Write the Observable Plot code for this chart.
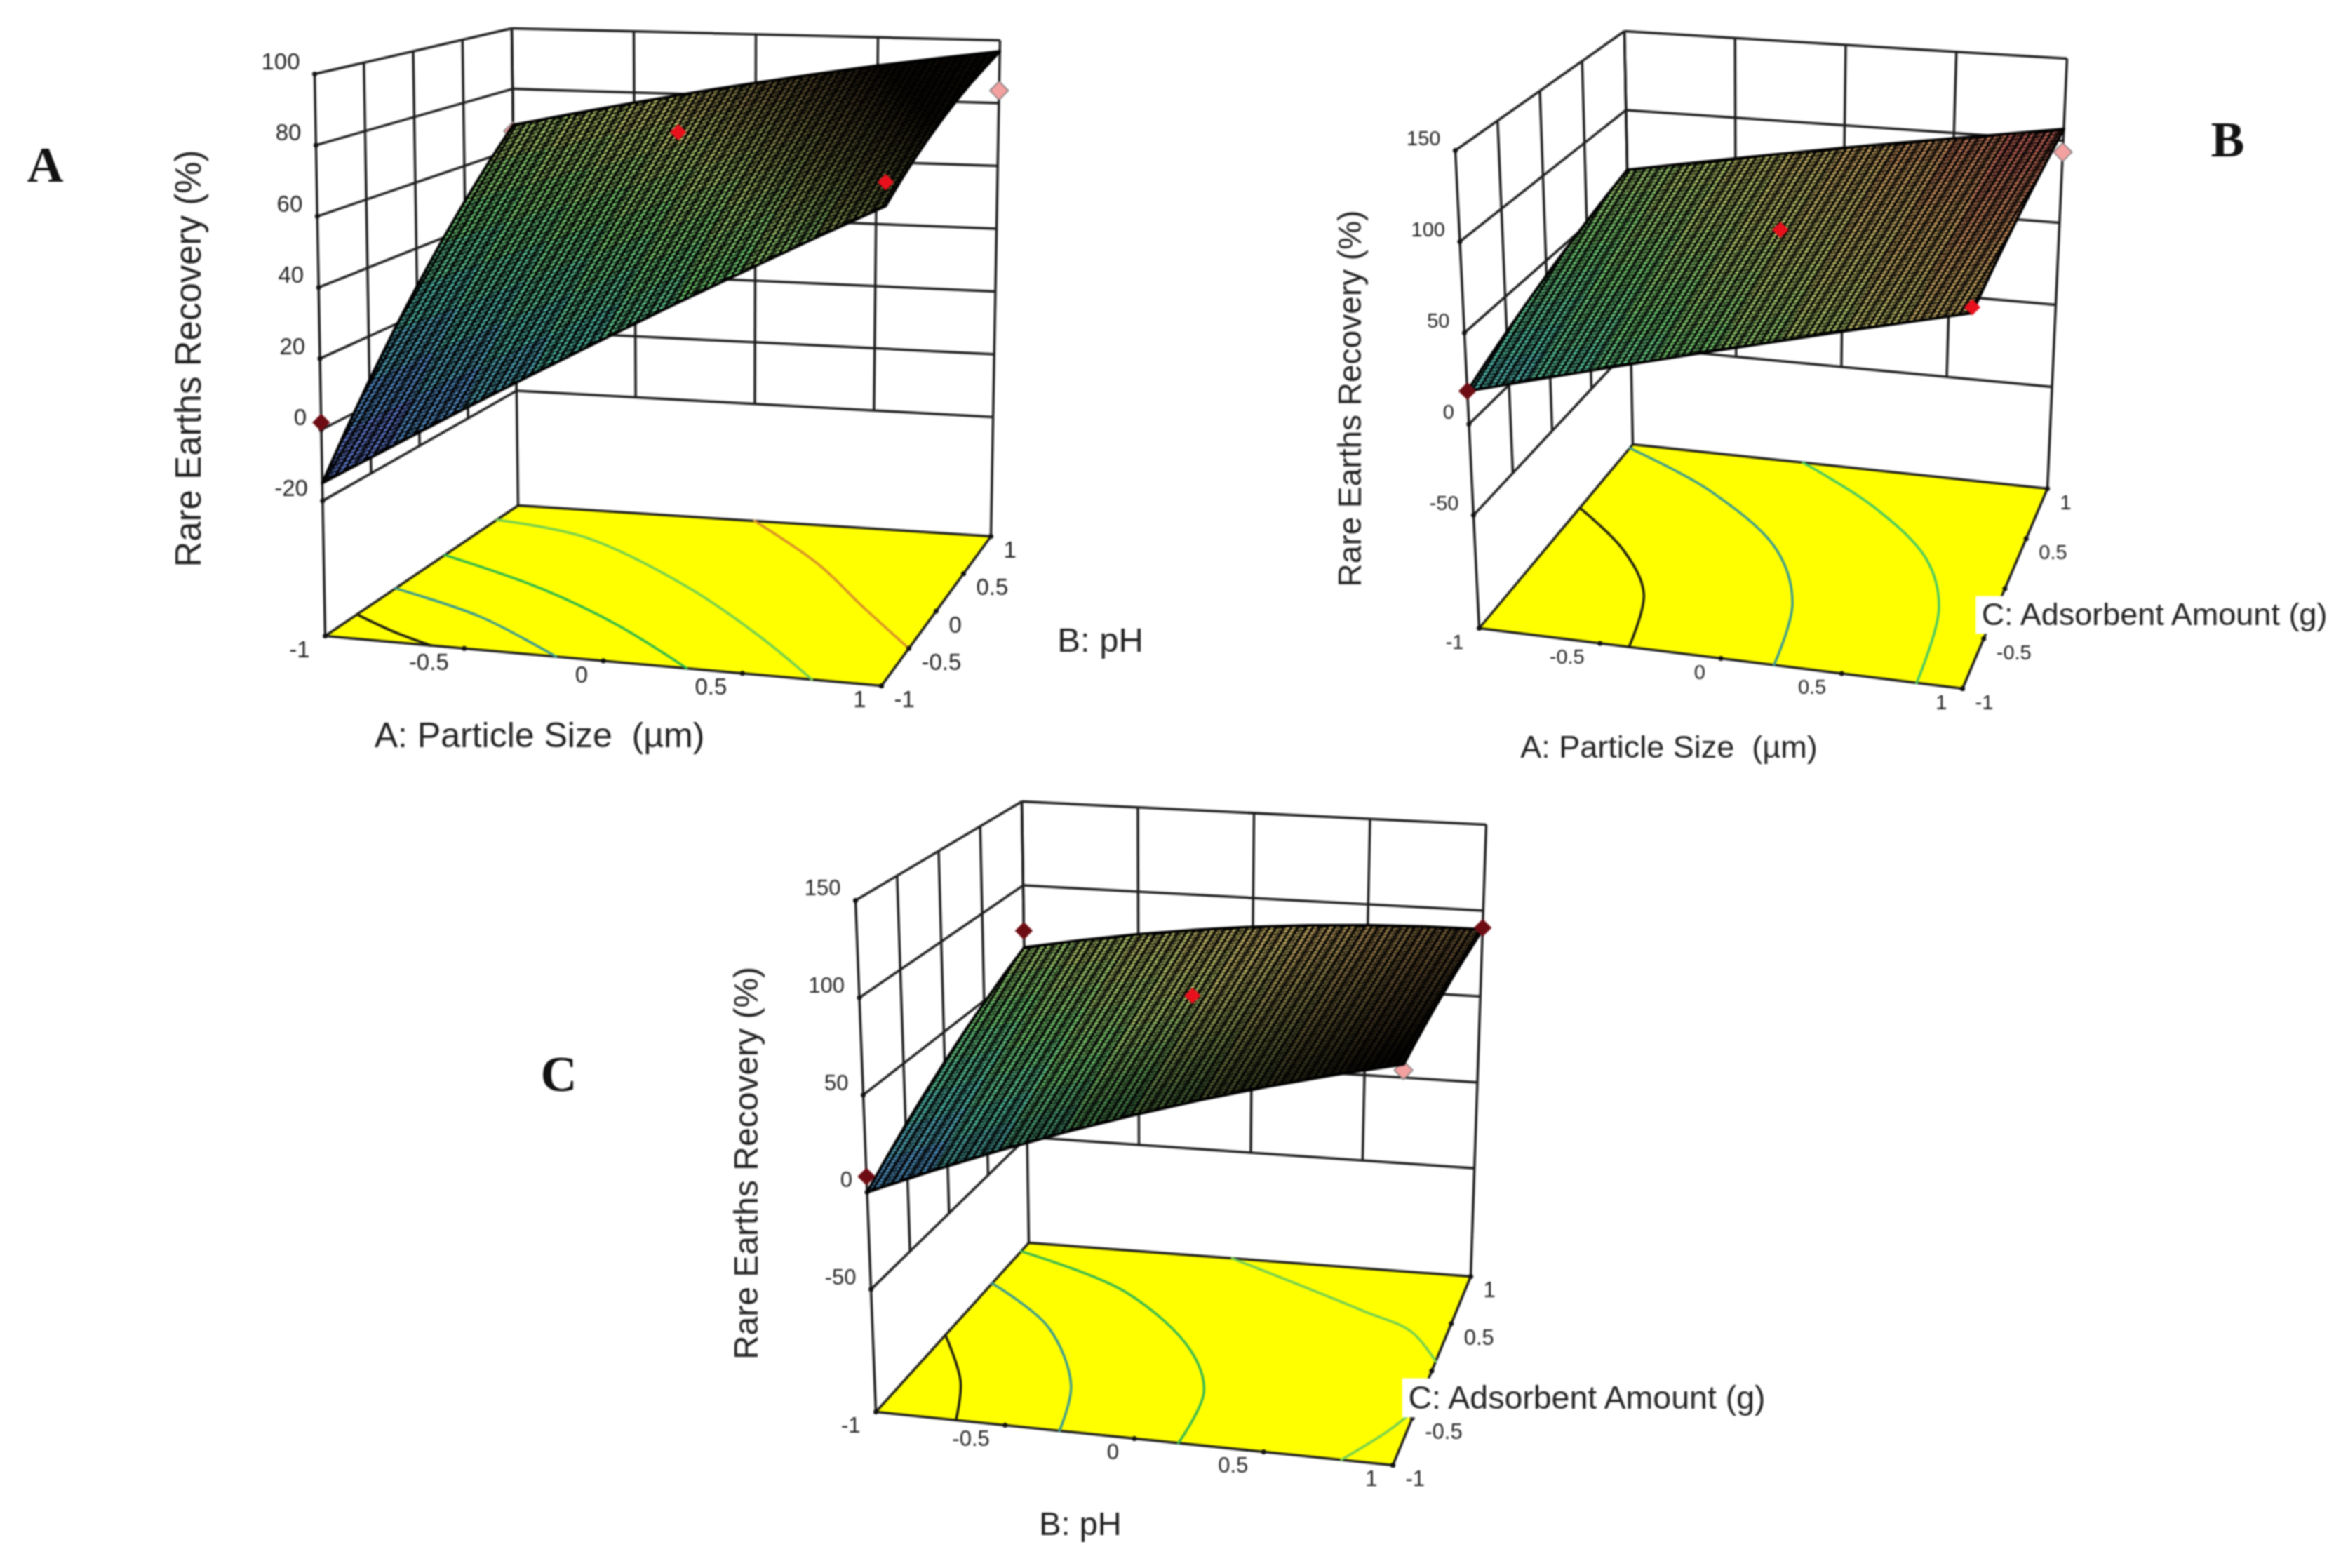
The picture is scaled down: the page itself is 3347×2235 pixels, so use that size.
<!DOCTYPE html>
<html><head><meta charset="utf-8">
<style>html,body{margin:0;padding:0;background:#fff}</style>
<script src="https://cdn.jsdelivr.net/npm/d3@7"></script>
<script src="https://cdn.jsdelivr.net/npm/@observablehq/plot@0.6"></script>
</head><body>
<script>
// ---- values ----
const axisKnots = [-1,-.75,-.5,-.25,0,.25,.5,.75,1];
const sideTicks = [-1,-.5,0,.5,1];
const zTicksA = [-20,0,20,40,60,80,100];
const zTicksBC = [-50,0,50,100,150];

// response heights: rows run along the second factor (-1 to 1), columns along the first
const surfaceA = [
[-15,-3.2,8.4,19.7,30.75,41.6,52.1,62.5,72.5],
[-3.8,7.2,17.8,28.2,38.3,48.2,57.8,67.2,76.4],
[7.2,17.2,26.9,36.4,45.6,54.6,63.3,71.8,80],
[18,27.1,35.8,44.4,52.7,60.8,68.6,76.1,83.4],
[28.5,36.6,44.5,52.1,59.5,66.6,73.5,80.1,86.5],
[38.8,46,53,59.7,66.1,72.3,78.3,84,89.4],
[48.8,55.1,61.1,66.9,72.4,77.7,82.7,87.5,92],
[58.5,63.9,68.9,73.8,78.4,82.8,86.9,90.7,94.3],
[68,72.4,76.6,80.6,84.25,87.7,90.9,93.8,96.5]];
const surfaceB = [
[18,27.3,36.4,45.3,54,62.5,70.9,79,87],
[24.2,33.1,41.8,50.3,58.7,66.9,74.8,82.6,90.2],
[30.1,38.7,46.9,55.1,63.1,70.9,78.4,85.9,93.1],
[35.9,44.1,52,59.8,67.4,74.8,82,89.1,95.9],
[41.5,49.3,56.9,64.3,71.5,78.5,85.4,92.1,98.5],
[46.9,54.4,61.5,68.6,75.4,82.1,88.5,94.8,100.9],
[52.1,59.2,65.9,72.6,79.1,85.4,91.5,97.4,103.1],
[57.2,63.9,70.3,76.6,82.7,88.6,94.3,99.9,105.2],
[62,68.3,74.4,80.3,86,91.5,96.7,101.8,107]];
const surfaceC = [
[0,14.2,27.5,40,51.5,62.2,72,80.9,89],
[8.7,21.9,34.3,45.7,56.3,66.1,74.9,82.8,89.9],
[17.3,29.5,40.8,51.3,60.9,69.6,77.5,84.4,90.5],
[25.5,36.8,47.1,56.6,65.2,72.9,79.8,85.8,90.9],
[33.5,43.7,53.1,61.6,69.25,76,81.9,86.9,91],
[41.3,50.6,59,66.5,73.1,78.9,83.8,87.8,90.9],
[48.8,57,64.4,71,76.7,81.5,85.4,88.4,90.5],
[56,63.3,69.7,75.3,79.9,83.7,86.6,88.6,89.8],
[63,69.3,74.75,79.3,83,85.8,87.75,88.8,89]];

// design points [first factor, second factor, response]
const aboveA = [[0,0,79],[1,-1,79]];
const lowA = [[-1,-1,2]];
const belowA = [[-1,1,66],[1,1,84]];
const aboveB = [[0,0,80],[1,-1,90]];
const lowB = [[-1,-1,18]];
const belowB = [[1,1,93]];
const aboveC = [[0,0,80]];
const lowC = [[-1,-1,8],[-1,1,73],[1,1,90]];
const belowC = [[1,-1,86]];

// contour lines on the floor [first factor, second factor]
const contoursA = [
 {color:"#1a1a10",line:[[-1,-.67],[-.8,-.86],[-.62,-1]]},
 {color:"#3a9a90",line:[[-1,-.27],[-.58,-.56],[-.17,-1]]},
 {color:"#2fb84a",line:[[-1,.24],[-.49,-.12],[-.08,-.52],[.3,-1]]},
 {color:"#74cf50",line:[[-1,.78],[-.57,.62],[.016,.06],[.44,-.5],[.75,-1]]},
 {color:"#d8902a",line:[[0,1],[.42,.48],[.72,-.02],[1,-.5]]}];
const contoursB = [
 {color:"#1a1a10",line:[[-1,.31],[-.68,-.06],[-.47,-.46],[-.38,-1]]},
 {color:"#3a9a90",line:[[-1,.96],[-.5,.62],[-.05,.12],[.15,-.38],[.22,-1]]},
 {color:"#48c860",line:[[-.18,1],[.26,.64],[.61,.19],[.76,-.26],[.81,-1]]}];
const contoursC = [
 {color:"#1a1a10",line:[[-1,-.09],[-.79,-.58],[-.69,-1]]},
 {color:"#3a9a90",line:[[-1,.52],[-.63,.1],[-.37,-.5],[-.29,-1]]},
 {color:"#38b850",line:[[-1,.9],[-.42,.54],[0,-.02],[.15,-.44],[.17,-1]]},
 {color:"#74cf50",line:[[-.08,1],[.6,.56],[.85,.38],[1,.1]]},
 {color:"#74cf50",line:[[.8,-1],[.93,-.65],[1,-.4]]}];

// ---- view set-up of each panel: where the box corners fall, and its labels ----
const panels = [
 {letter:"A",letterAt:[64,235],surface:surfaceA,above:aboveA,low:lowA,below:belowA,contours:contoursA,zTicks:zTicksA,
  zFloor:-58,zTop:100,tick:33,titleSize:50,
  floor:[[463,906],[1256,977],[1412,764],[738,720]],top:[[448,105],[1263,149],[1425,57],[729,40]],
  xTitle:"A: Particle Size  (µm)",yTitle:"B: pH",xOff:[-91,107],yOff:[234,42],zOff:[-186,5],yBox:false,ySize:49,
  shade:{from:[0,0,79],to:[-.94,4.13,79],opacity:.93}},
 {letter:"B",letterAt:[3175,199],surface:surfaceB,above:aboveB,low:lowB,below:belowB,contours:contoursB,zTicks:zTicksBC,
  zFloor:-112,zTop:150,tick:29,titleSize:45,
  floor:[[2108,895],[2797,981],[2918,696],[2327,633]],top:[[2074,214],[2815,276],[2946,83],[2315,44]],
  xTitle:"A: Particle Size  (µm)",yTitle:"C: Adsorbent Amount (g)",xOff:[-74,127],yOff:[213,38],zOff:[-166,13],yBox:true,ySize:45,
  shade:{from:[.2,0,75],to:[1,1,107],opacity:.15}},
 {letter:"C",letterAt:[796,1531],surface:surfaceC,above:aboveC,low:lowC,below:belowC,contours:contoursC,zTicks:zTicksBC,
  zFloor:-113,zTop:150,tick:31,titleSize:47,
  floor:[[1248,2012],[1985,2088],[2096,1819],[1466,1771]],top:[[1219,1283],[2005,1344],[2118,1175],[1456,1142]],
  xTitle:"B: pH",yTitle:"C: Adsorbent Amount (g)",xOff:[-77,122],yOff:[221,39],zOff:[-169,10],yBox:true,ySize:46.5,
  shade:{from:[0,0,80],to:[.638,-1.8,80],opacity:.95}}
];
const meshLayers = [{id:"mesh",count:62,hole:37},{id:"weave",count:85,hole:47}];

// ---- projection of a model point into the chart's x/y scale ----
function project(p,a,b,z){
  const u=(a+1)/2,v=(b+1)/2,w=(z-p.zFloor)/(p.zTop-p.zFloor);
  const bil=q=>[0,1].map(k=>(1-u)*(1-v)*q[0][k]+u*(1-v)*q[1][k]+u*v*q[2][k]+(1-u)*v*q[3][k]);
  const f=bil(p.floor),t=bil(p.top);
  return {x:f[0]+(t[0]-f[0])*w,y:f[1]+(t[1]-f[1])*w};
}
const pt=(p,a,b,z)=>project(p,a,b,z);

// ---- tables built from the arrays ----
const gridRows=[],tickDots=[],cellRows=[],textEnd=[],textStart=[],textMid=[],boxed=[];
const link=(p,a1,b1,z1,a2,b2,z2)=>{const s=pt(p,a1,b1,z1),e=pt(p,a2,b2,z2);gridRows.push({x1:s.x,y1:s.y,x2:e.x,y2:e.y});};
panels.forEach((p,pi)=>{
  const zMin=p.zTicks[0],zMax=p.zTicks[p.zTicks.length-1];
  p.zTicks.forEach(z=>{
    link(p,-1,-1,z,-1,1,z);link(p,-1,1,z,1,1,z);
    const c=pt(p,-1,-1,z);tickDots.push(c);
    textEnd.push({x:c.x-21,y:c.y-17,text:String(z),size:p.tick});
  });
  sideTicks.forEach(t=>{
    link(p,-1,t,zMin,-1,t,zMax);link(p,t,1,zMin,t,1,zMax);
    const e=pt(p,t,-1,p.zFloor),s=pt(p,1,t,p.zFloor);
    tickDots.push(e,s);
    textEnd.push({x:e.x-22,y:e.y+20,text:String(t),size:p.tick});
    // the reference's pasted title box hides the middle tick label of this axis in panels B and C
    if(!(p.yBox&&t===0))textStart.push({x:s.x+18,y:s.y+20,text:String(t),size:p.tick});
  });
  [[-1,-1],[-1,1],[1,1]].forEach(([a,b])=>link(p,a,b,p.zFloor,a,b,zMin));
  p.floorRows=[[-1,-1],[1,-1],[1,1],[-1,1],[-1,-1]].map(([a,b])=>pt(p,a,b,p.zFloor));
  p.contourRows=p.contours.map(c=>({color:c.color,rows:c.line.map(([a,b])=>pt(p,a,b,p.zFloor))}));
  const S=p.surface,n=axisKnots.length-1;
  for(let j=0;j<n;j++)for(let i=0;i<n;i++){
    const value=(S[j][i]+S[j][i+1]+S[j+1][i]+S[j+1][i+1])/4,key=`${pi}-${i}-${j}`;
    [[i,j],[i+1,j],[i+1,j+1],[i,j+1]].forEach(([ii,jj])=>{
      const q=pt(p,axisKnots[ii],axisKnots[jj],S[jj][ii]);
      cellRows.push({...q,key,value});
    });
  }
  const edge=[];
  for(let i=0;i<=n;i++)edge.push([i,0]);
  for(let j=1;j<=n;j++)edge.push([n,j]);
  for(let i=n-1;i>=0;i--)edge.push([i,n]);
  for(let j=n-1;j>=0;j--)edge.push([0,j]);
  p.edgeRows=edge.map(([i,j])=>pt(p,axisKnots[i],axisKnots[j],S[j][i]));
  const toRows=l=>l.map(([a,b,z])=>pt(p,a,b,z));
  p.aboveRows=toRows(p.above);p.lowRows=toRows(p.low);p.belowRows=toRows(p.below);
  const xm=pt(p,0,-1,p.zFloor),ym=pt(p,1,0,p.zFloor),
        zm={x:(p.floor[0][0]+p.top[0][0])/2,y:(p.floor[0][1]+p.top[0][1])/2};
  textMid.push({x:xm.x+p.xOff[0],y:xm.y+p.xOff[1],text:p.xTitle,size:p.titleSize,rotate:0});
  textMid.push({x:zm.x+p.zOff[0],y:zm.y+p.zOff[1],text:"Rare Earths Recovery (%)",size:p.titleSize+1,rotate:-90});
  (p.yBox?boxed:textMid).push({x:ym.x+p.yOff[0],y:ym.y+p.yOff[1],text:p.yTitle,size:p.ySize,rotate:0});
});

// mesh texture and shading definitions (styling only)
function defsMark(){
  const defs=d3.create("svg:defs");
  panels.forEach((p,i)=>{
    const S=p.surface,n=axisKnots.length-1;
    const c00=pt(p,-1,-1,S[0][0]),c10=pt(p,1,-1,S[0][n]),c01=pt(p,-1,1,S[n][0]),c11=pt(p,1,1,S[n][n]);
    meshLayers.forEach(layer=>{
      const k=layer.count*100*2;
      const ux=((c10.x-c00.x)+(c11.x-c01.x))/k,uy=((c10.y-c00.y)+(c11.y-c01.y))/k,
            vx=((c01.x-c00.x)+(c11.x-c10.x))/k,vy=((c01.y-c00.y)+(c11.y-c10.y))/k;
      const pat=defs.append("pattern").attr("id",layer.id+i).attr("patternUnits","userSpaceOnUse")
        .attr("width",100).attr("height",100)
        .attr("patternTransform",`matrix(${ux},${uy},${vx},${vy},0,0)`);
      const r=layer.hole;
      pat.append("path").attr("fill","#000").attr("fill-rule","evenodd")
        .attr("d",`M0,0H100V100H0Z M${50-r},50a${r},${r} 0 1,0 ${2*r},0a${r},${r} 0 1,0 ${-2*r},0Z`);
    });
    const f=pt(p,...p.shade.from),t=pt(p,...p.shade.to);
    const g=defs.append("linearGradient").attr("id","shade"+i).attr("gradientUnits","userSpaceOnUse")
      .attr("x1",f.x).attr("y1",f.y).attr("x2",t.x).attr("y2",t.y);
    g.append("stop").attr("offset",0).attr("stop-color","#000").attr("stop-opacity",0);
    g.append("stop").attr("offset",1).attr("stop-color","#000").attr("stop-opacity",p.shade.opacity);
  });
  return defs.node();
}

const lineCol="#1c1c1c";
const chart=Plot.plot({
  width:3347,height:2235,margin:0,
  style:{background:"#fff",filter:"blur(0.9px)"},
  x:{domain:[0,3347],range:[0,3347],axis:null},
  y:{domain:[0,2235],range:[0,2235],axis:null},
  color:{type:"linear",domain:[-15,10,30,50,70,90,107],
    range:["#8078ff","#60b0f0","#60e8c8","#88f888","#d8f080","#ffc878","#ff7070"]},
  marks:[
    defsMark,
    Plot.link(gridRows,{x1:"x1",y1:"y1",x2:"x2",y2:"y2",stroke:lineCol,strokeWidth:3.5}),
    ...panels.flatMap(p=>[
      Plot.line(p.floorRows,{x:"x",y:"y",fill:"#ffff00",stroke:lineCol,strokeWidth:3.5}),
      ...p.contourRows.map(c=>Plot.line(c.rows,{x:"x",y:"y",stroke:c.color,strokeWidth:3.5,curve:"catmull-rom"})),
      Plot.dot(p.belowRows,{x:"x",y:"y",symbol:"diamond2",r:12,fill:"#f2a0a0",stroke:"#777",strokeWidth:1.5})
    ]),
    Plot.dot(tickDots,{x:"x",y:"y",r:3.5,fill:"#111"}),
    Plot.line(cellRows,{x:"x",y:"y",z:"key",fill:"value",stroke:"value",strokeWidth:1}),
    ...panels.flatMap((p,i)=>[
      ...meshLayers.map(layer=>Plot.line(p.edgeRows,{x:"x",y:"y",fill:`url(#${layer.id}${i})`,stroke:"none"})),
      Plot.line(p.edgeRows,{x:"x",y:"y",fill:`url(#shade${i})`,stroke:"#000",strokeWidth:4}),
      Plot.dot(p.aboveRows,{x:"x",y:"y",symbol:"diamond2",r:10.5,fill:"#e8101c"}),
      Plot.dot(p.lowRows,{x:"x",y:"y",symbol:"diamond2",r:11.5,fill:"#6e0c14"})
    ]),
    Plot.text(textEnd,{x:"x",y:"y",text:"text",fontSize:"size",textAnchor:"end",fontFamily:"Liberation Sans",fill:"#222"}),
    Plot.text(textStart,{x:"x",y:"y",text:"text",fontSize:"size",textAnchor:"start",fontFamily:"Liberation Sans",fill:"#222"}),
    // the white box the axis title is pasted on in the reference
    Plot.rect(boxed,{x1:d=>d.x-d.size*5.65,x2:d=>d.x+d.size*5.65,y1:d=>d.y-d.size*.6,y2:d=>d.y+d.size*.6,fill:"#fff"}),
    Plot.text(boxed,{x:"x",y:"y",text:"text",fontSize:"size",fontFamily:"Liberation Sans",fill:"#222"}),
    Plot.text(textMid,{x:"x",y:"y",text:"text",fontSize:"size",rotate:"rotate",fontFamily:"Liberation Sans",fill:"#222"}),
    Plot.text(panels,{x:p=>p.letterAt[0],y:p=>p.letterAt[1],text:"letter",fontSize:72,fontWeight:"bold",fontFamily:"Liberation Serif",fill:"#111"})
  ]
});
document.body.appendChild(chart);
</script>
</body></html>
